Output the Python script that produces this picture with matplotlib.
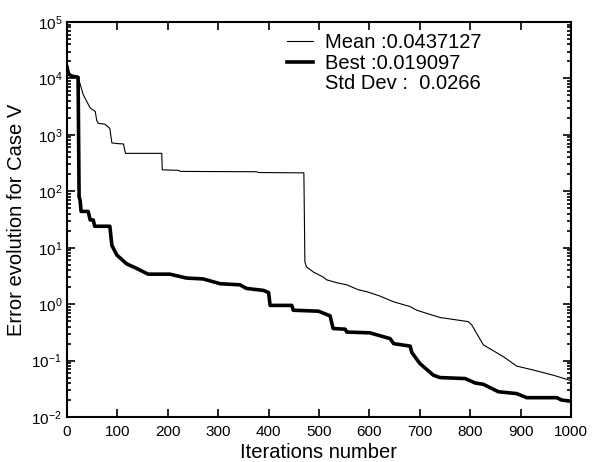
import matplotlib
matplotlib.use("Agg")
import matplotlib.pyplot as plt
from matplotlib.lines import Line2D
from matplotlib.ticker import LogLocator, FixedLocator, NullFormatter

plt.rcParams['font.family'] = ['Liberation Sans', 'DejaVu Sans']
plt.rcParams['mathtext.fontset'] = 'custom'
plt.rcParams['mathtext.rm'] = 'Liberation Sans'

# Mean error curve
mean_iter = [0, 3, 8, 22, 26, 32, 42, 46, 56, 59, 62, 75, 85, 89, 100, 112, 116, 188, 189,
             221, 225, 376, 380, 470, 472, 475, 489, 509, 515, 535, 555, 578, 595, 620,
             648, 680, 694, 740, 770, 796, 803, 826, 866, 892, 925, 965, 1000]
mean_val = [17000, 13000, 11000, 10000, 8000, 5200, 3500, 3000, 2600, 1800, 1600, 1550, 1300,
            720, 700, 690, 470, 470, 240, 235, 225, 222, 215, 212, 5.6, 4.6, 3.7, 3.0, 2.7,
            2.4, 2.2, 1.8, 1.66, 1.4, 1.1, 0.91, 0.78, 0.58, 0.53, 0.49, 0.43, 0.19, 0.117,
            0.08, 0.068, 0.055, 0.044]

# Best error curve
best_iter = [0, 3, 9, 22, 24, 26, 28, 42, 46, 52, 55, 85, 89, 99, 118, 138, 161, 204, 237,
             270, 304, 343, 356, 390, 400, 403, 446, 449, 499, 522, 528, 552, 555, 601, 641,
             648, 681, 684, 700, 727, 740, 790, 810, 826, 856, 892, 912, 972, 981, 1000]
best_val = [16000, 12000, 11000, 10500, 80, 69, 44, 44, 31, 31, 24, 24, 11, 7.4, 5.2, 4.3,
            3.4, 3.4, 2.9, 2.8, 2.3, 2.2, 1.9, 1.75, 1.6, 0.95, 0.95, 0.78, 0.75, 0.62, 0.37,
            0.36, 0.32, 0.31, 0.245, 0.2, 0.18, 0.14, 0.089, 0.055, 0.05, 0.048, 0.04, 0.038,
            0.028, 0.026, 0.022, 0.022, 0.020, 0.019]

labels = ["Mean :0.0437127", "Best :0.019097", "Std Dev :  0.0266"]
x_ticks = [0, 100, 200, 300, 400, 500, 600, 700, 800, 900, 1000]

fig = plt.figure(figsize=(5.93, 4.62), dpi=100)
ax = fig.add_axes([67/593, 1 - 417/462, 504/593, 395/462])

ax.plot(mean_iter, mean_val, color='black', lw=0.8)
ax.plot(best_iter, best_val, color='black', lw=2.6)

ax.set_yscale('log')
ax.set_xlim(0, 1000)
ax.set_ylim(1e-2, 1e5)
ax.xaxis.set_major_locator(FixedLocator(x_ticks))
ax.yaxis.set_major_locator(LogLocator(base=10, numticks=10))
ax.yaxis.set_minor_locator(LogLocator(base=10, subs=range(2, 10), numticks=20))
ax.yaxis.set_minor_formatter(NullFormatter())

ax.tick_params(which='both', direction='in', top=True, right=True, labelsize=11, width=1.2)
ax.tick_params(which='major', length=6)
ax.tick_params(axis='x', which='major', pad=6)
ax.tick_params(which='minor', length=3)
for s in ax.spines.values():
    s.set_linewidth(1.5)

ax.set_xlabel("Iterations number", fontsize=14.5, labelpad=3)
ax.set_ylabel("Error evolution for Case V", fontsize=14.5, labelpad=4)

handles = [Line2D([], [], color='black', lw=0.8),
           Line2D([], [], color='black', lw=2.6),
           Line2D([], [], color='none', lw=0)]
ax.legend(handles, labels, loc='upper left', frameon=False, fontsize=14.5,
          bbox_to_anchor=((287 - 67) / 504, (417 - 33) / 395), borderpad=0,
          borderaxespad=0, handlelength=1.3, handletextpad=0.6, labelspacing=0.08)

fig.savefig("out.png", dpi=100)
